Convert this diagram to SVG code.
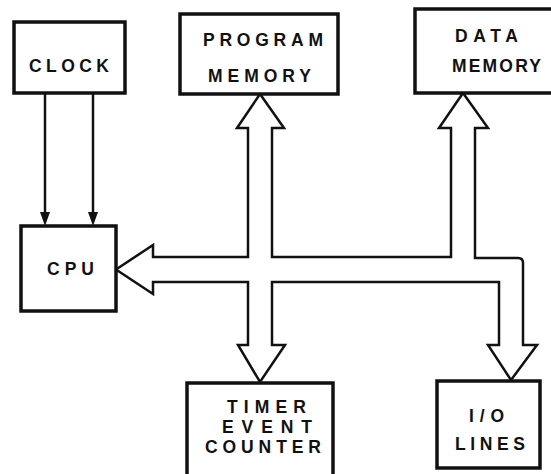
<svg xmlns="http://www.w3.org/2000/svg" width="551" height="474" viewBox="0 0 551 474">
  <style>
    .box { fill: #fff; stroke: #111; stroke-width: 3.5; }
    .lbl { font-family: "Liberation Sans", Arial, sans-serif; font-weight: bold; font-size: 17.5px; fill: #111; }
    .bus { fill: #fff; stroke: #111; stroke-width: 2.5; stroke-linejoin: miter; }
    .wire { fill: none; stroke: #111; stroke-width: 2.5; }
  </style>
  <rect width="551" height="474" fill="#fff"/>

  <!-- connectors: clock lines and the wide system bus -->
  <g id="connectors">
    <line class="wire" x1="45" y1="94" x2="45" y2="212"/>
    <line class="wire" x1="93" y1="94" x2="93" y2="212"/>
    <path d="M40,212 L50,212 L45,226 Z" fill="#111"/>
    <path d="M88,212 L98,212 L93,226 Z" fill="#111"/>
    <path class="bus" d="M153,245 L116,269.5 L153,294 L153,282 L248,282 L248,345 L238,345 L260,382 L285,345 L272,345 L272,282 L499,282 L499,345 L488,345 L511,380 L537,345 L523,345 L523,263 Q523,258 518,258 L475,258 L475,128 L488,128 L463,93 L439,128 L451,128 L451,257 L272,257 L272,128 L284,128 L260,94 L237,128 L248,128 L248,257 L153,257 Z"/>
  </g>

  <g id="clock">
    <rect class="box" x="14" y="22" width="111" height="71"/>
    <text class="lbl" x="29" y="72" textLength="80" lengthAdjust="spacing">CLOCK</text>
  </g>

  <g id="program-memory">
    <rect class="box" x="180" y="14" width="158" height="80"/>
    <text class="lbl" x="203" y="46" textLength="120" lengthAdjust="spacing">PROGRAM</text>
    <text class="lbl" x="208" y="82" textLength="103" lengthAdjust="spacing">MEMORY</text>
  </g>

  <g id="data-memory">
    <rect class="box" x="415" y="9" width="145" height="84"/>
    <text class="lbl" x="455" y="42" textLength="63" lengthAdjust="spacing">DATA</text>
    <text class="lbl" x="452" y="72" textLength="89" lengthAdjust="spacing">MEMORY</text>
  </g>

  <g id="cpu">
    <rect class="box" x="21" y="226" width="95" height="85"/>
    <text class="lbl" x="47" y="275" textLength="47" lengthAdjust="spacing">CPU</text>
  </g>

  <g id="timer">
    <rect class="box" x="187" y="383" width="146" height="100"/>
    <text class="lbl" x="227" y="413" textLength="79" lengthAdjust="spacing">TIMER</text>
    <text class="lbl" x="222" y="433" textLength="90" lengthAdjust="spacing">EVENT</text>
    <text class="lbl" x="205" y="453" textLength="116" lengthAdjust="spacing">COUNTER</text>
  </g>

  <g id="io-lines">
    <rect class="box" x="437" y="381" width="103" height="87"/>
    <text class="lbl" x="469" y="422" textLength="35" lengthAdjust="spacing">I/O</text>
    <text class="lbl" x="455" y="450" textLength="70" lengthAdjust="spacing">LINES</text>
  </g>
</svg>
